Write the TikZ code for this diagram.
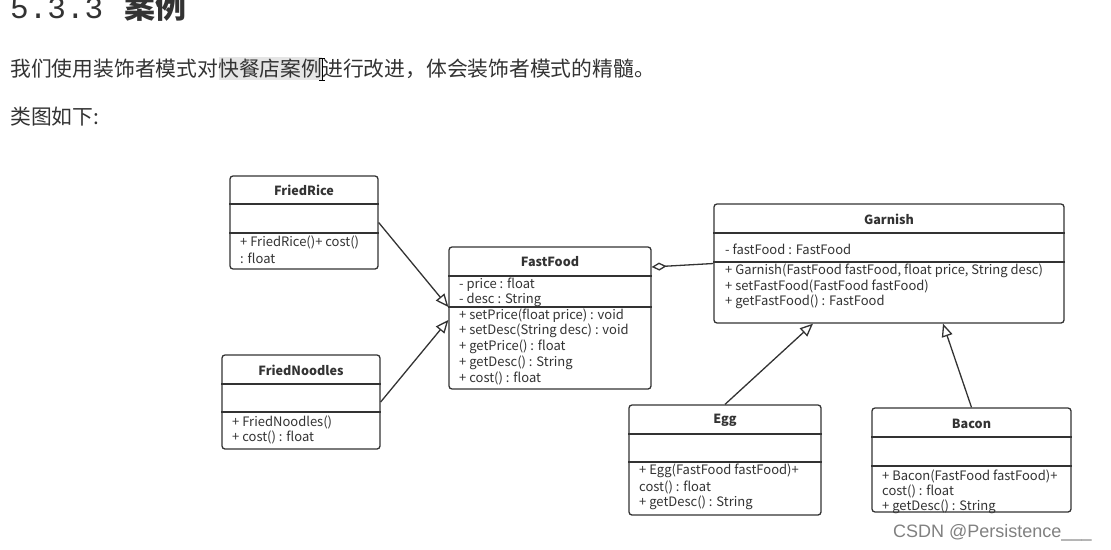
\documentclass[tikz,border=0pt]{standalone}
\usepackage{fontspec}
\setmainfont{Noto Sans CJK SC}
\newfontfamily\monofont{Liberation Mono}
\newfontfamily\wmfont{Liberation Sans}
\usetikzlibrary{arrows.meta}
\definecolor{ink}{HTML}{333333}
\definecolor{txt}{HTML}{333333}
\tikzset{
  cls/.style={draw=ink, line width=1.3pt, rounded corners=3pt, fill=white, inner sep=0pt},
  sep/.style={draw=ink, line width=1.3pt},
  ttl/.style={font=\fontsize{12.6}{14}\selectfont\bfseries, text=txt, inner sep=0pt},
  mem/.style={font=\fontsize{13}{15}\selectfont, text=txt, anchor=west, inner sep=0pt},
  inh/.style={draw=ink, line width=1.3pt, -{Triangle[open, length=13pt, width=11pt, line width=1.3pt]}},
  agg/.style={draw=ink, line width=1.3pt, {Diamond[open, length=15pt, width=8pt, line width=1.3pt]}-},
  para/.style={font=\fontsize{20.8}{24}\selectfont, text=black!80, anchor=base west, inner sep=0pt}
}
\begin{document}
\begin{tikzpicture}[x=1pt, y=-1pt]
\useasboundingbox (0,0) rectangle (1111,549);
% heading and text
\node[anchor=base west, inner sep=0pt, text=black!80] (h1) at (10,18) {\monofont\fontsize{31}{34}\selectfont 5.3.3\ \kern3pt{\fontspec{Noto Sans CJK SC}\bfseries 案例}};
\fill[black!10] (219,57) rectangle (322,80);
\node[para] (p1) at (10,76) {我们使用装饰者模式对快餐店案例进行改进，体会装饰者模式的精髓。};
\draw[black, line width=0.8pt] (322,58) -- (322,80) (319,58) -- (325,58) (319,80) -- (325,80);
\node[para] (p2) at (10,124) {类图如下:};

% FriedRice
\node[cls, minimum width=148pt, minimum height=93pt] (friedrice) at (304,222.5) {};
\draw[sep] (friedrice.west |- 0,204) -- (friedrice.east |- 0,204);
\draw[sep] (friedrice.west |- 0,233) -- (friedrice.east |- 0,233);
\node[ttl] (frt) at (304,190) {FriedRice};
\node[mem] (frm1) at (240,242) {+ FriedRice()+ cost()};
\node[mem] (frm2) at (240,258) {: float};

% FriedNoodles
\node[cls, minimum width=158pt, minimum height=94pt] (friednoodles) at (301,402) {};
\draw[sep] (friednoodles.west |- 0,384) -- (friednoodles.east |- 0,384);
\draw[sep] (friednoodles.west |- 0,412) -- (friednoodles.east |- 0,412);
\node[ttl] (fnt) at (301,370) {FriedNoodles};
\node[mem] (fnm1) at (232,422) {+ FriedNoodles()};
\node[mem] (fnm2) at (232,437) {+ cost() : float};

% FastFood
\node[cls, minimum width=202pt, minimum height=142pt] (fastfood) at (550,318) {};
\draw[sep] (fastfood.west |- 0,276) -- (fastfood.east |- 0,276);
\draw[sep] (fastfood.west |- 0,307) -- (fastfood.east |- 0,307);
\node[ttl] (fft) at (550,262) {FastFood};
\node[mem] (ffa1) at (459,285) {- price : float};
\node[mem] (ffa2) at (459,300) {- desc : String};
\node[mem] (ffm1) at (459,316) {+ setPrice(float price) : void};
\node[mem] (ffm2) at (459,331) {+ setDesc(String desc) : void};
\node[mem] (ffm3) at (459,347) {+ getPrice() : float};
\node[mem] (ffm4) at (459,363) {+ getDesc() : String};
\node[mem] (ffm5) at (459,378) {+ cost() : float};

% Garnish
\node[cls, minimum width=350pt, minimum height=119pt] (garnish) at (889,263.5) {};
\draw[sep] (garnish.west |- 0,233) -- (garnish.east |- 0,233);
\draw[sep] (garnish.west |- 0,262) -- (garnish.east |- 0,262);
\node[ttl] (gat) at (889,219) {Garnish};
\node[mem] (gaa1) at (725,249) {- fastFood : FastFood};
\node[mem] (gam1) at (725,271) {+ Garnish(FastFood fastFood, float price, String desc)};
\node[mem] (gam2) at (725,286) {+ setFastFood(FastFood fastFood)};
\node[mem] (gam3) at (725,302) {+ getFastFood() : FastFood};

% Egg
\node[cls, minimum width=192pt, minimum height=110pt] (egg) at (725,460) {};
\draw[sep] (egg.west |- 0,434) -- (egg.east |- 0,434);
\draw[sep] (egg.west |- 0,462) -- (egg.east |- 0,462);
\node[ttl] (egt) at (725,420) {Egg};
\node[mem] (egm1) at (639,471) {+ Egg(FastFood fastFood)+};
\node[mem] (egm2) at (639,487) {cost() : float};
\node[mem] (egm3) at (639,503) {+ getDesc() : String};

% Bacon
\node[cls, minimum width=199pt, minimum height=104pt] (bacon) at (971.5,460) {};
\draw[sep] (bacon.west |- 0,437) -- (bacon.east |- 0,437);
\draw[sep] (bacon.west |- 0,466) -- (bacon.east |- 0,466);
\node[ttl] (bat) at (971.5,424) {Bacon};
\node[mem] (bam1) at (882,476) {+ Bacon(FastFood fastFood)+};
\node[mem] (bam2) at (882,491) {cost() : float};
\node[mem] (bam3) at (882,507) {+ getDesc() : String};

% connectors
\draw[inh] (friedrice.east) -- ([yshift=11pt]fastfood.west);
\draw[inh] (friednoodles.east) -- ([yshift=-2pt]fastfood.west);
\draw[agg] ([yshift=51pt]fastfood.east) -- (garnish.west);
\draw[inh] (egg.north) -- ([xshift=-76pt]garnish.south);
\draw[inh] (bacon.north) -- ([xshift=54pt]garnish.south);

% watermark
\node[anchor=base west, inner sep=0pt, text=black!50, font=\wmfont\fontsize{18}{20}\selectfont] (wm) at (893,537) {CSDN @Persistence\_\_\_};
\end{tikzpicture}
\end{document}
